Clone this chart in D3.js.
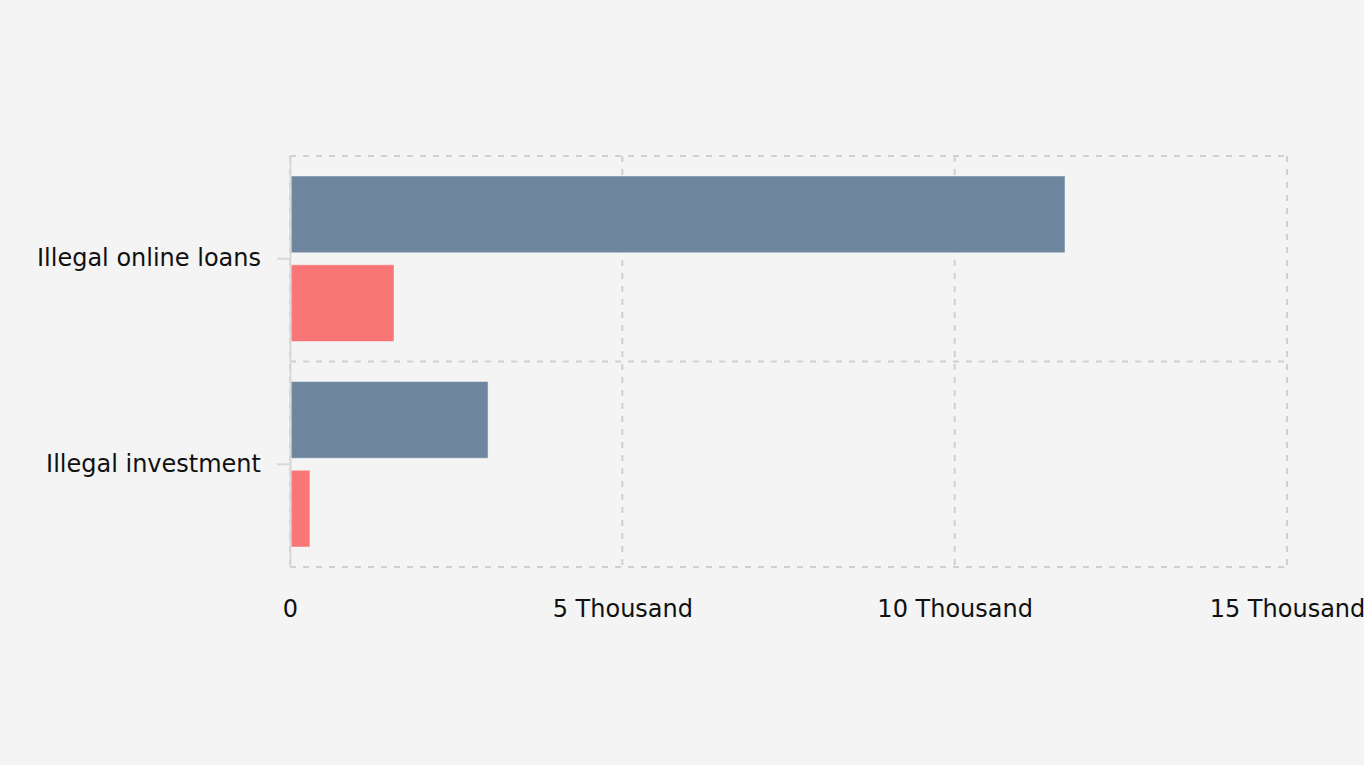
<!DOCTYPE html>
<html>
<head>
<meta charset="utf-8">
<script src="https://cdn.jsdelivr.net/npm/d3@7"></script>
<style>
  html, body { margin: 0; padding: 0; background: #f4f4f4; }
  svg { display: block; }
</style>
</head>
<body>
<svg id="chart" width="1364" height="765"></svg>
<script>
const categories = ["Illegal online loans", "Illegal investment"];
const seriesNames = ["Series A", "Series B"];
const seriesA = [11660, 2980];
const seriesB = [1565, 300];
const xTicks = [0, 5000, 10000, 15000];
const xTickLabels = ["0", "5 Thousand", "10 Thousand", "15 Thousand"];
const colors = ["#6f869f", "#f87676"];

const W = 1364, H = 765;
const m = { left: 290, right: 77, top: 156, bottom: 198 };
const iw = W - m.left - m.right, ih = H - m.top - m.bottom;
const FONT = "'DejaVu Sans', Verdana, sans-serif";
const FS = "24px";

const svg = d3.select("#chart");
svg.append("rect").attr("width", W).attr("height", H).attr("fill", "#f4f4f4");
const g = svg.append("g").attr("transform", `translate(${m.left},${m.top})`);

const x = d3.scaleLinear().domain([0, 15000]).range([0, iw]);
const y = d3.scaleBand().domain(categories).range([0, ih]).paddingInner(0).paddingOuter(0);
const inner = d3.scaleBand().domain(seriesNames).range([20, y.bandwidth() - 20]).paddingInner(0.135);

const gridColor = "#d0d0d0";
const dash = "6,7";

g.selectAll(".vgrid").data(xTicks).join("line")
  .attr("x1", d => x(d)).attr("x2", d => x(d))
  .attr("y1", 0).attr("y2", ih)
  .attr("stroke", gridColor).attr("stroke-width", 2)
  .attr("stroke-dasharray", dash);

const bounds = [0, ...categories.map(c => y(c) + y.bandwidth())];
g.selectAll(".hgrid").data(bounds).join("line")
  .attr("x1", 0).attr("x2", iw)
  .attr("y1", d => d).attr("y2", d => d)
  .attr("stroke", gridColor).attr("stroke-width", 2)
  .attr("stroke-dasharray", dash);

const rows = categories.map((c, i) => ({ c, vals: [seriesA[i], seriesB[i]] }));
rows.forEach(r => {
  r.vals.forEach((v, j) => {
    g.append("rect")
      .attr("x", x(0) + 1)
      .attr("y", y(r.c) + inner(seriesNames[j]))
      .attr("width", x(v) - x(0) - 1)
      .attr("height", inner.bandwidth())
      .attr("fill", colors[j])
      .attr("stroke", "rgba(255,255,255,0.45)")
      .attr("stroke-width", 1);
  });
});

// y axis
const yAxis = d3.axisLeft(y).tickSize(13).tickPadding(16).tickSizeOuter(0);
const ya = g.append("g").call(yAxis);
ya.select(".domain").attr("stroke", "#d8d8d8").attr("stroke-width", 2);
ya.selectAll(".tick line").attr("stroke", "#d8d8d8").attr("stroke-width", 2);
ya.selectAll(".tick text").style("font-size", FS).style("font-family", FONT).attr("fill", "#111");

// x axis
const xAxis = d3.axisBottom(x).tickValues(xTicks).tickSize(0).tickPadding(33)
  .tickFormat((d, i) => xTickLabels[i]);
const xa = g.append("g").attr("transform", `translate(0,${ih})`).call(xAxis);
xa.select(".domain").remove();
xa.selectAll(".tick text").style("font-size", FS).style("font-family", FONT).attr("fill", "#111");
</script>
</body>
</html>
